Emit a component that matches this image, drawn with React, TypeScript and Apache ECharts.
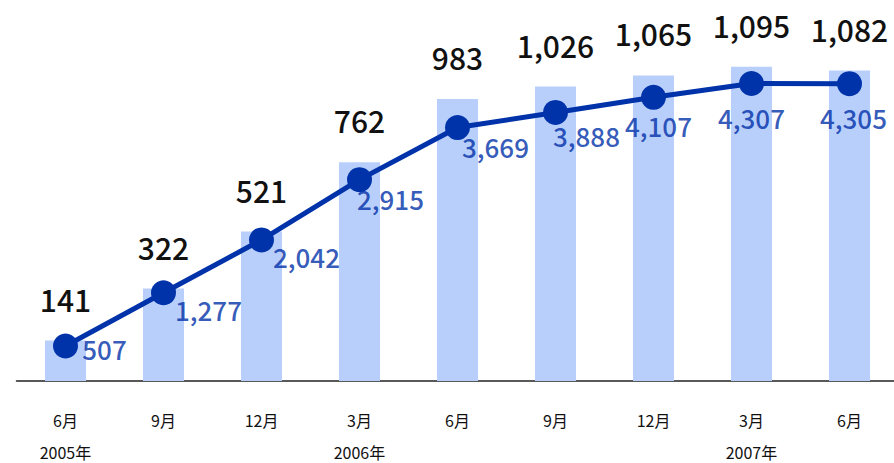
import React, { useEffect, useRef } from "react";
import * as echarts from "echarts";

const months = ["6月", "9月", "12月", "3月", "6月", "9月", "12月", "3月", "6月"];
const years = ["2005年", "", "", "2006年", "", "", "", "2007年", ""];
const barValues = [141, 322, 521, 762, 983, 1026, 1065, 1095, 1082];
const lineValues = [507, 1277, 2042, 2915, 3669, 3888, 4107, 4307, 4305];
// label offsets (style) for the line value labels, relative to each point
const lineLabelOffsets = [
  [39, 3],
  [45, 17],
  [45, 17],
  [31, 19],
  [38, 19],
  [31, 23],
  [5, 28],
  [0, 34],
  [4, 34],
];

const FONT = '"Noto Sans CJK JP", "Noto Sans", sans-serif';
const BLUE = "#0033AA";
const LABEL_BLUE = "#0030A8";
const BAR = "#B9CFFB";

const fmt = (v: number) => v.toLocaleString("en-US");

export default function App() {
  const ref = useRef<HTMLDivElement>(null);
  useEffect(() => {
    if (!ref.current) return;
    const chart = echarts.init(ref.current, null, { renderer: "svg" });
    const categories = months.map((m, i) => "{m|" + m + "}\n{y|" + (years[i] || " ") + "}");
    chart.setOption({
      animation: false,
      backgroundColor: "#ffffff",
      grid: {
        left: 16.5,
        top: 8,
        width: 882,
        bottom: 82,
        containLabel: false,
        outerBoundsMode: "none",
      },
      xAxis: {
        type: "category",
        data: categories,
        boundaryGap: true,
        axisLine: { lineStyle: { color: "#222", width: 1.5 } },
        axisTick: { show: false },
        axisLabel: {
          interval: 0,
          margin: 15.5,
          color: "#111",
          fontFamily: FONT,
          fontSize: 16,
          rich: {
            m: { fontFamily: FONT, fontSize: 16, color: "#111", lineHeight: 46 },
            y: { fontFamily: FONT, fontSize: 16, color: "#111", lineHeight: 18 },
          },
        },
      },
      yAxis: [
        { type: "value", min: 0, max: 1300, show: false, splitLine: { show: false } },
        { type: "value", min: 0, max: 5400, show: false, splitLine: { show: false } },
      ],
      series: [
        {
          type: "bar",
          z: 1,
          yAxisIndex: 0,
          data: barValues,
          barWidth: 41,
          itemStyle: { color: BAR },
          label: {
            show: true,
            position: "top",
            distance: 27,
            color: "#111",
            fontFamily: FONT,
            fontWeight: 500,
            fontSize: 30,
            formatter: (p: any) => fmt(p.value),
          },
        },
        {
          type: "scatter",
          z: 2,
          yAxisIndex: 1,
          symbolSize: 1,
          itemStyle: { color: "transparent" },
          silent: true,
          data: lineValues.map((v, i) => ({
            value: v,
            label: { offset: lineLabelOffsets[i] },
          })),
          label: {
            show: true,
            position: "inside",
            align: "center",
            verticalAlign: "middle",
            color: LABEL_BLUE,
            fontFamily: FONT,
            fontWeight: 500,
            fontSize: 26,
            formatter: (p: any) => fmt(p.value),
          },
        },
        {
          type: "line",
          z: 3,
          yAxisIndex: 1,
          data: lineValues,
          symbol: "circle",
          symbolSize: 25,
          lineStyle: { color: BLUE, width: 5 },
          itemStyle: { color: BLUE },
          label: { show: false },
        },
      ],
    });
    return () => chart.dispose();
  }, []);
  return (
    <div
      ref={ref}
      style={{ position: "fixed", left: 0, top: 0, width: 894, height: 463, background: "#fff" }}
    />
  );
}
